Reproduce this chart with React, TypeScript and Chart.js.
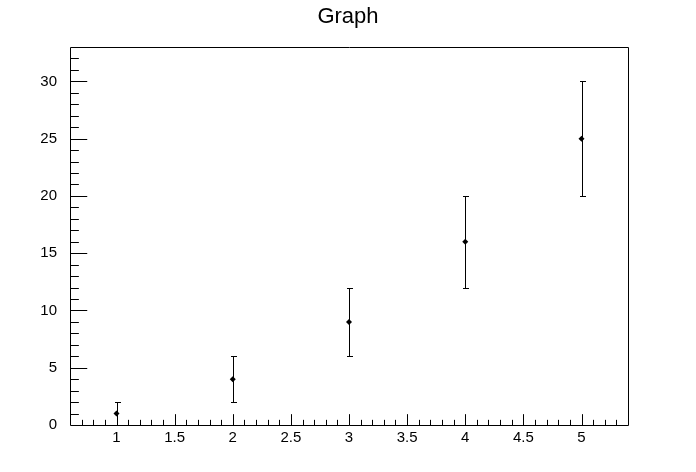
import React, { useEffect, useRef } from "react";
import { Chart, registerables } from "chart.js";
Chart.register(...registerables);

const xValues = [1, 2, 3, 4, 5];
const yValues = [1, 4, 9, 16, 25];
const yErrors = [1, 2, 3, 4, 5];
const xTickLabels = [1, 1.5, 2, 2.5, 3, 3.5, 4, 4.5, 5];
const yTickLabels = [0, 5, 10, 15, 20, 25, 30];
const xRange = [0.6, 5.4];
const yRange = [0, 33];
const xMinorStep = 0.1;
const yMinorStep = 1;
const titleText = "Graph";

const FONT = "'Liberation Sans', Arial, Helvetica, sans-serif";

const rootPlugin = {
  id: "rootStyle",
  beforeDatasetsDraw(chart: any) {
    const ctx = chart.ctx;
    const xs = chart.scales.x;
    const ys = chart.scales.y;
    ctx.save();
    ctx.strokeStyle = "#000";
    ctx.lineWidth = 1;
    const cap = 2.5;
    for (let i = 0; i < xValues.length; i++) {
      const px = Math.round(xs.getPixelForValue(xValues[i])) + 0.5;
      const top = Math.round(ys.getPixelForValue(yValues[i] + yErrors[i])) + 0.5;
      const bot = Math.round(ys.getPixelForValue(yValues[i] - yErrors[i])) + 0.5;
      ctx.beginPath();
      ctx.moveTo(px, top);
      ctx.lineTo(px, bot);
      ctx.moveTo(px - cap, top);
      ctx.lineTo(px + cap + 1, top);
      ctx.moveTo(px - cap, bot);
      ctx.lineTo(px + cap + 1, bot);
      ctx.stroke();
    }
    ctx.restore();
  },
  afterDraw(chart: any) {
    const ctx = chart.ctx;
    const a = chart.chartArea;
    const xs = chart.scales.x;
    const ys = chart.scales.y;
    ctx.save();
    ctx.strokeStyle = "#000";
    ctx.lineWidth = 1;
    const L = Math.round(a.left) + 0.5;
    const R = Math.round(a.right) + 0.5;
    const T = Math.round(a.top) + 0.5;
    const B = Math.round(a.bottom) + 0.5;
    ctx.beginPath();
    ctx.rect(L, T, R - L, B - T);
    ctx.stroke();
    const h = a.bottom - a.top;
    const w = a.right - a.left;
    const xMaj = 0.03 * h;
    const yMaj = 0.03 * w;
    ctx.beginPath();
    const nx = Math.round((xRange[1] - xRange[0]) / xMinorStep);
    for (let k = 1; k < nx; k++) {
      const v = +(xRange[0] + k * xMinorStep).toFixed(6);
      const isMaj = xTickLabels.some((t) => Math.abs(t - v) < 1e-6);
      const px = Math.round(xs.getPixelForValue(v)) + 0.5;
      const len = isMaj ? xMaj : xMaj / 2;
      ctx.moveTo(px, B);
      ctx.lineTo(px, B - len);
    }
    const ny = Math.round((yRange[1] - yRange[0]) / yMinorStep);
    for (let k = 1; k < ny; k++) {
      const v = yRange[0] + k * yMinorStep;
      const isMaj = yTickLabels.some((t) => Math.abs(t - v) < 1e-6);
      const py = Math.round(ys.getPixelForValue(v)) + 0.5;
      const len = isMaj ? yMaj : yMaj / 2;
      ctx.moveTo(L, py);
      ctx.lineTo(L + len, py);
    }
    ctx.stroke();
    ctx.fillStyle = "#000";
    ctx.font = `22px ${FONT}`;
    ctx.textAlign = "center";
    ctx.textBaseline = "alphabetic";
    ctx.fillText(titleText, 348, 23);
    ctx.restore();
  },
};

export default function App() {
  const ref = useRef<HTMLCanvasElement | null>(null);
  useEffect(() => {
    document.body.style.margin = "0";
    const c = ref.current;
    if (!c) return;
    const chart = new Chart(c, {
      type: "scatter",
      data: {
        datasets: [
          {
            data: xValues.map((x, i) => ({ x, y: yValues[i] })),
            pointStyle: "rectRot",
            pointRadius: 3,
            pointBackgroundColor: "#000",
            pointBorderColor: "#000",
            pointBorderWidth: 0,
            showLine: false,
          },
        ],
      },
      options: {
        animation: false,
        responsive: false,
        devicePixelRatio: 1,
        layout: { padding: { top: 47, right: 68, left: 0, bottom: 0 } },
        plugins: { legend: { display: false }, tooltip: { enabled: false }, title: { display: false } },
        scales: {
          x: {
            type: "linear",
            min: xRange[0],
            max: xRange[1],
            grid: { display: false },
            border: { display: false },
            ticks: {
              color: "#000",
              font: { family: FONT, size: 15 },
              padding: -4,
              maxRotation: 0,
              autoSkip: false,
              callback: (v: any) => String(v),
            },
            afterBuildTicks: (s: any) => {
              s.ticks = xTickLabels.map((v) => ({ value: v }));
            },
            afterFit: (s: any) => {
              s.height = 47;
            },
          },
          y: {
            type: "linear",
            min: yRange[0],
            max: yRange[1],
            grid: { display: false },
            border: { display: false },
            ticks: {
              color: "#000",
              font: { family: FONT, size: 15 },
              padding: 5,
              autoSkip: false,
              callback: (v: any) => String(v),
            },
            afterBuildTicks: (s: any) => {
              s.ticks = yTickLabels.map((v) => ({ value: v }));
            },
            afterFit: (s: any) => {
              s.width = 70;
            },
          },
        },
      },
      plugins: [rootPlugin],
    });
    return () => chart.destroy();
  }, []);
  return (
    <div style={{ position: "absolute", left: 0, top: 0, width: 696, height: 472, background: "#fff" }}>
      <canvas ref={ref} width={696} height={472} />
    </div>
  );
}
